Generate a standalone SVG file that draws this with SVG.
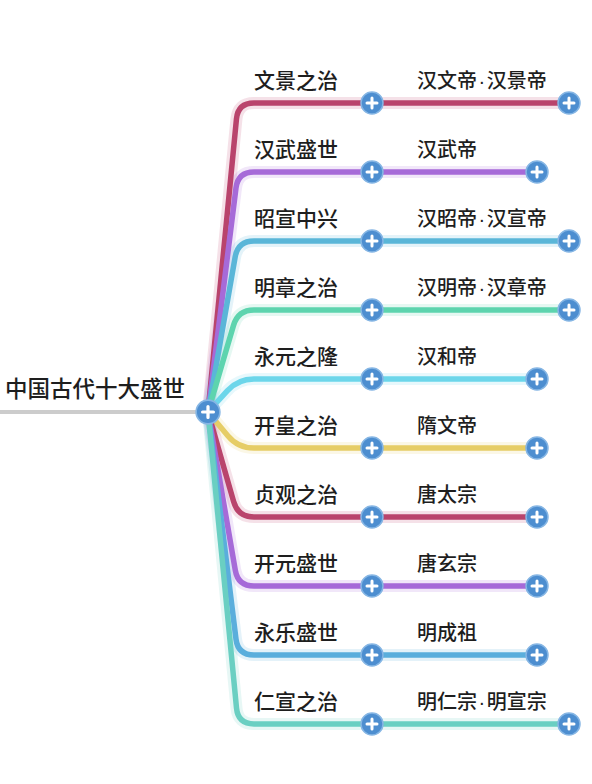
<svg xmlns="http://www.w3.org/2000/svg" xmlns:xlink="http://www.w3.org/1999/xlink" width="592" height="784" viewBox="0 0 592 784">
<style>
.t1{font-family:"Noto Sans CJK SC","Noto Sans",sans-serif;font-size:21px;font-weight:500;fill:#1e1e1e}
.t2{font-family:"Noto Sans CJK SC","Noto Sans",sans-serif;font-size:20px;font-weight:500;fill:#1e1e1e}
.t0{font-family:"Noto Sans CJK SC","Noto Sans",sans-serif;font-size:22.5px;font-weight:500;fill:#1e1e1e}
.dot{font-family:"Liberation Sans",sans-serif}
.ln{fill:none;stroke-width:5.5;stroke-linecap:round;stroke-linejoin:round}
.gl{fill:none;stroke-width:12;stroke-linecap:round;stroke-linejoin:round;opacity:0.16}
</style>
<defs>
<g id="plus">
<circle r="11" fill="#4d8ed0" stroke="#86b6e4" stroke-width="1.5"/>
<path d="M-5 0H5M0 -5V5" stroke="#fff" stroke-width="3" stroke-linecap="round"/>
</g>
</defs>
<rect width="592" height="784" fill="#fff"/>
<g id="connectors">
<path d="M0 412H200" stroke="#cccccc" stroke-width="4" fill="none"/>
<g class="glow">
<path class="gl" stroke="#c2456e" d="M208 412L236.45 118.9Q238 103 254 103H569"/>
<path class="gl" stroke="#a66ad8" d="M208 412L236 187.9Q238 172 254 172H537"/>
<path class="gl" stroke="#5ab6d8" d="M208 412L235.2 256.8Q238 241 254 241H569"/>
<path class="gl" stroke="#5dd4ae" d="M208 412L233.5 325.4Q238 310 254 310H569"/>
<path class="gl" stroke="#6cd6ea" d="M208 412L227.2 390.8Q238 379 254 379H537"/>
<path class="gl" stroke="#e6cd66" d="M208 412L227.8 435.7Q238 448 254 448H537"/>
<path class="gl" stroke="#c2456e" d="M208 412L233.6 501.6Q238 517 254 517H537"/>
<path class="gl" stroke="#a66ad8" d="M208 412L235.3 570.2Q238 586 254 586H537"/>
<path class="gl" stroke="#5aaedc" d="M208 412L236 639.1Q238 655 254 655H537"/>
<path class="gl" stroke="#6acfc2" d="M208 412L236.5 708.1Q238 724 254 724H569"/>
</g>
<path class="ln" stroke="#b9446c" d="M208 412L236.45 118.9Q238 103 254 103H569"/>
<path class="ln" stroke="#a66ad8" d="M208 412L236 187.9Q238 172 254 172H537"/>
<path class="ln" stroke="#5ab6d8" d="M208 412L235.2 256.8Q238 241 254 241H569"/>
<path class="ln" stroke="#5dd4ae" d="M208 412L233.5 325.4Q238 310 254 310H569"/>
<path class="ln" stroke="#6cd6ea" d="M208 412L227.2 390.8Q238 379 254 379H537"/>
<path class="ln" stroke="#e6cd66" d="M208 412L227.8 435.7Q238 448 254 448H537"/>
<path class="ln" stroke="#b9446c" d="M208 412L233.6 501.6Q238 517 254 517H537"/>
<path class="ln" stroke="#a66ad8" d="M208 412L235.3 570.2Q238 586 254 586H537"/>
<path class="ln" stroke="#5aaedc" d="M208 412L236 639.1Q238 655 254 655H537"/>
<path class="ln" stroke="#6acfc2" d="M208 412L236.5 708.1Q238 724 254 724H569"/>
</g>
<g id="root">
<text class="t0" x="5" y="397">中国古代十大盛世</text>
<use xlink:href="#plus" href="#plus" transform="translate(208 412) scale(1.08)"/>
</g>
<g id="n1"><text class="t1" x="254" y="88">文景之治</text><use href="#plus" xlink:href="#plus" x="372" y="103"/></g>
<g id="n1a"><text class="t2" x="417" y="88">汉文帝<tspan class="dot" dx="1.5">·</tspan><tspan dx="1.5">汉景帝</tspan></text><use href="#plus" xlink:href="#plus" x="569" y="103"/></g>
<g id="n2"><text class="t1" x="254" y="157">汉武盛世</text><use href="#plus" xlink:href="#plus" x="372" y="172"/></g>
<g id="n2a"><text class="t2" x="417" y="157">汉武帝</text><use href="#plus" xlink:href="#plus" x="537" y="172"/></g>
<g id="n3"><text class="t1" x="254" y="226">昭宣中兴</text><use href="#plus" xlink:href="#plus" x="372" y="241"/></g>
<g id="n3a"><text class="t2" x="417" y="226">汉昭帝<tspan class="dot" dx="1.5">·</tspan><tspan dx="1.5">汉宣帝</tspan></text><use href="#plus" xlink:href="#plus" x="569" y="241"/></g>
<g id="n4"><text class="t1" x="254" y="295">明章之治</text><use href="#plus" xlink:href="#plus" x="372" y="310"/></g>
<g id="n4a"><text class="t2" x="417" y="295">汉明帝<tspan class="dot" dx="1.5">·</tspan><tspan dx="1.5">汉章帝</tspan></text><use href="#plus" xlink:href="#plus" x="569" y="310"/></g>
<g id="n5"><text class="t1" x="254" y="364">永元之隆</text><use href="#plus" xlink:href="#plus" x="372" y="379"/></g>
<g id="n5a"><text class="t2" x="417" y="364">汉和帝</text><use href="#plus" xlink:href="#plus" x="537" y="379"/></g>
<g id="n6"><text class="t1" x="254" y="433">开皇之治</text><use href="#plus" xlink:href="#plus" x="372" y="448"/></g>
<g id="n6a"><text class="t2" x="417" y="433">隋文帝</text><use href="#plus" xlink:href="#plus" x="537" y="448"/></g>
<g id="n7"><text class="t1" x="254" y="502">贞观之治</text><use href="#plus" xlink:href="#plus" x="372" y="517"/></g>
<g id="n7a"><text class="t2" x="417" y="502">唐太宗</text><use href="#plus" xlink:href="#plus" x="537" y="517"/></g>
<g id="n8"><text class="t1" x="254" y="571">开元盛世</text><use href="#plus" xlink:href="#plus" x="372" y="586"/></g>
<g id="n8a"><text class="t2" x="417" y="571">唐玄宗</text><use href="#plus" xlink:href="#plus" x="537" y="586"/></g>
<g id="n9"><text class="t1" x="254" y="640">永乐盛世</text><use href="#plus" xlink:href="#plus" x="372" y="655"/></g>
<g id="n9a"><text class="t2" x="417" y="640">明成祖</text><use href="#plus" xlink:href="#plus" x="537" y="655"/></g>
<g id="n10"><text class="t1" x="254" y="709">仁宣之治</text><use href="#plus" xlink:href="#plus" x="372" y="724"/></g>
<g id="n10a"><text class="t2" x="417" y="709">明仁宗<tspan class="dot" dx="1.5">·</tspan><tspan dx="1.5">明宣宗</tspan></text><use href="#plus" xlink:href="#plus" x="569" y="724"/></g>
</svg>
